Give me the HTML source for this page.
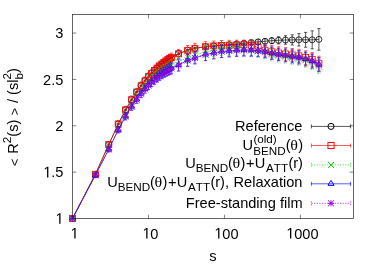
<!DOCTYPE html>
<html><head><meta charset="utf-8"><title>plot</title>
<style>html,body{margin:0;padding:0;background:#fff;}svg{display:block;}text{font-kerning:none;}</style>
</head><body>
<svg width="380" height="266" viewBox="0 0 380 266" font-family='"Liberation Sans", sans-serif' font-size="14.6" fill="#000">
<defs><filter id="bt" x="-5%" y="-5%" width="110%" height="110%" color-interpolation-filters="sRGB"><feGaussianBlur stdDeviation="0.3"/></filter><filter id="bd" x="-5%" y="-5%" width="110%" height="110%" color-interpolation-filters="sRGB"><feGaussianBlur stdDeviation="0.2"/></filter></defs>
<rect width="380" height="266" fill="#fff"/>
<g filter="url(#bt)">
<path d="M72.5 172.14h3.8M353.5 172.14h-3.8M72.5 125.77h3.8M353.5 125.77h-3.8M72.5 79.41h3.8M353.5 79.41h-3.8M72.5 33.05h3.8M353.5 33.05h-3.8M148.47 218.5v-3.8M148.47 14.5v3.8M224.43 218.5v-3.8M224.43 14.5v3.8M300.4 218.5v-3.8M300.4 14.5v3.8" fill="none" stroke="#000" stroke-width="0.5"/>
<g transform="translate(55.28 223.8) scale(1 1.06)"><path transform="translate(0 0) scale(0.00713 -0.00713)" d="M555 0V1237L237 1010V1180L570 1409H736V0Z"/></g>
<g transform="translate(43.11 177.44) scale(1 1.06)"><path transform="translate(0 0) scale(0.00713 -0.00713)" d="M555 0V1237L237 1010V1180L570 1409H736V0Z"/><text x="8.12" y="0">.</text><text x="12.18" y="0">5</text></g>
<g transform="translate(55.28 131.07) scale(1 1.06)"><text x="0" y="0">2</text></g>
<g transform="translate(43.11 84.71) scale(1 1.06)"><text x="0" y="0">2</text><text x="8.12" y="0">.</text><text x="12.18" y="0">5</text></g>
<g transform="translate(55.28 38.35) scale(1 1.06)"><text x="0" y="0">3</text></g>
<g transform="translate(70.34 238.6) scale(1 1.06)"><path transform="translate(0 0) scale(0.00713 -0.00713)" d="M555 0V1237L237 1010V1180L570 1409H736V0Z"/></g>
<g transform="translate(142.25 238.6) scale(1 1.06)"><path transform="translate(0 0) scale(0.00713 -0.00713)" d="M555 0V1237L237 1010V1180L570 1409H736V0Z"/><text x="8.12" y="0">0</text></g>
<g transform="translate(214.16 238.6) scale(1 1.06)"><path transform="translate(0 0) scale(0.00713 -0.00713)" d="M555 0V1237L237 1010V1180L570 1409H736V0Z"/><text x="8.12" y="0">0</text><text x="16.24" y="0">0</text></g>
<g transform="translate(286.07 238.6) scale(1 1.06)"><path transform="translate(0 0) scale(0.00713 -0.00713)" d="M555 0V1237L237 1010V1180L570 1409H736V0Z"/><text x="8.12" y="0">0</text><text x="16.24" y="0">0</text><text x="24.35" y="0">0</text></g>
<text x="213" y="260.6" text-anchor="middle">s</text>
<g transform="translate(18.2 117.2) rotate(-90)"><text x="0" y="0" text-anchor="middle"><tspan font-size="13.14" dy="0.9">&lt;</tspan><tspan dy="-0.9" dx="0.8"> R</tspan><tspan font-size="11.68" dy="-7.2">2</tspan><tspan dy="7.2">(s) </tspan><tspan font-size="13.14" dy="0.9">&gt;</tspan><tspan dy="-0.9" dx="0.8"> / (sl</tspan><tspan font-size="11.68" dy="-7.2">2</tspan><tspan font-size="11.68" dy="11.5" dx="-6.49">b</tspan><tspan dy="-4.3">)</tspan></text></g>
</g>
<g filter="url(#bd)">
<polyline points="72.5,218.5 95.37,174.3 108.75,144.6 118.24,123.94 125.6,109.85 131.61,99.63 136.7,91.99 141.11,85.69 144.99,80.69 148.47,76.62 151.61,73.25 154.48,70.42 157.12,67.99 159.57,65.9 161.84,64.07 163.97,62.45 165.97,61.02 167.86,59.73 169.64,58.57 171.34,57.52 178.6,53.7 187.6,50.3 194.9,48.3 205.5,46.7 213.8,45.9 221.6,45.3 229.2,44.7 236.7,44 243.9,43.2 251.3,42.4 258.1,41.8 265,41.3 271.8,40.7 278.6,40.3 285.5,40 292.2,39.9 298.9,39.8 305.6,39.8 312.2,39.8 318.9,39.4" fill="none" stroke="#000000" stroke-width="0.65"/>
<path d="M72.5 218V219M70.9 218H74.1M70.9 219H74.1M95.37 173.8V174.8M93.77 173.8H96.97M93.77 174.8H96.97M108.75 144.1V145.1M107.15 144.1H110.35M107.15 145.1H110.35M118.24 123.44V124.44M116.64 123.44H119.84M116.64 124.44H119.84M125.6 109.35V110.35M124 109.35H127.2M124 110.35H127.2M131.61 99.13V100.13M130.01 99.13H133.21M130.01 100.13H133.21M136.7 91.49V92.49M135.1 91.49H138.3M135.1 92.49H138.3M141.11 85.19V86.19M139.51 85.19H142.71M139.51 86.19H142.71M144.99 80.19V81.19M143.39 80.19H146.59M143.39 81.19H146.59M148.47 76.12V77.12M146.87 76.12H150.07M146.87 77.12H150.07M151.61 72.75V73.75M150.01 72.75H153.21M150.01 73.75H153.21M154.48 69.92V70.92M152.88 69.92H156.08M152.88 70.92H156.08M157.12 67.49V68.49M155.52 67.49H158.72M155.52 68.49H158.72M159.57 65.4V66.4M157.97 65.4H161.17M157.97 66.4H161.17M161.84 63.57V64.57M160.24 63.57H163.44M160.24 64.57H163.44M163.97 61.95V62.95M162.37 61.95H165.57M162.37 62.95H165.57M165.97 60.52V61.52M164.37 60.52H167.57M164.37 61.52H167.57M167.86 59.23V60.23M166.26 59.23H169.46M166.26 60.23H169.46M169.64 58.07V59.07M168.04 58.07H171.24M168.04 59.07H171.24M171.34 57.02V58.02M169.74 57.02H172.94M169.74 58.02H172.94M178.6 52.9V54.5M177 52.9H180.2M177 54.5H180.2M187.6 49.5V51.1M186 49.5H189.2M186 51.1H189.2M194.9 47.5V49.1M193.3 47.5H196.5M193.3 49.1H196.5M205.5 45.9V47.5M203.9 45.9H207.1M203.9 47.5H207.1M213.8 45.1V46.7M212.2 45.1H215.4M212.2 46.7H215.4M221.6 44.5V46.1M220 44.5H223.2M220 46.1H223.2M229.2 43.74V45.66M227.6 43.74H230.8M227.6 45.66H230.8M236.7 42.85V45.15M235.1 42.85H238.3M235.1 45.15H238.3M243.9 41.81V44.59M242.3 41.81H245.5M242.3 44.59H245.5M251.3 40.72V44.08M249.7 40.72H252.9M249.7 44.08H252.9M258.1 39.78V43.82M256.5 39.78H259.7M256.5 43.82H259.7M265 38.87V43.73M263.4 38.87H266.6M263.4 43.73H266.6M271.8 37.77V43.63M270.2 37.77H273.4M270.2 43.63H273.4M278.6 36.77V43.83M277 36.77H280.2M277 43.83H280.2M285.5 35.75V44.25M283.9 35.75H287.1M283.9 44.25H287.1M292.2 34.77V45.03M290.6 34.77H293.8M290.6 45.03H293.8M298.9 33.62V45.98M297.3 33.62H300.5M297.3 45.98H300.5M305.6 32.36V47.24M304 32.36H307.2M304 47.24H307.2M312.2 30.84V48.76M310.6 30.84H313.8M310.6 48.76H313.8M318.9 28.6V50.2M317.3 28.6H320.5M317.3 50.2H320.5" fill="none" stroke="#000000" stroke-width="0.65"/>
<circle cx="72.5" cy="218.5" r="3" fill="none" stroke="#000000" stroke-width="0.8"/>
<circle cx="95.37" cy="174.3" r="3" fill="none" stroke="#000000" stroke-width="0.8"/>
<circle cx="108.75" cy="144.6" r="3" fill="none" stroke="#000000" stroke-width="0.8"/>
<circle cx="118.24" cy="123.94" r="3" fill="none" stroke="#000000" stroke-width="0.8"/>
<circle cx="125.6" cy="109.85" r="3" fill="none" stroke="#000000" stroke-width="0.8"/>
<circle cx="131.61" cy="99.63" r="3" fill="none" stroke="#000000" stroke-width="0.8"/>
<circle cx="136.7" cy="91.99" r="3" fill="none" stroke="#000000" stroke-width="0.8"/>
<circle cx="141.11" cy="85.69" r="3" fill="none" stroke="#000000" stroke-width="0.8"/>
<circle cx="144.99" cy="80.69" r="3" fill="none" stroke="#000000" stroke-width="0.8"/>
<circle cx="148.47" cy="76.62" r="3" fill="none" stroke="#000000" stroke-width="0.8"/>
<circle cx="151.61" cy="73.25" r="3" fill="none" stroke="#000000" stroke-width="0.8"/>
<circle cx="154.48" cy="70.42" r="3" fill="none" stroke="#000000" stroke-width="0.8"/>
<circle cx="157.12" cy="67.99" r="3" fill="none" stroke="#000000" stroke-width="0.8"/>
<circle cx="159.57" cy="65.9" r="3" fill="none" stroke="#000000" stroke-width="0.8"/>
<circle cx="161.84" cy="64.07" r="3" fill="none" stroke="#000000" stroke-width="0.8"/>
<circle cx="163.97" cy="62.45" r="3" fill="none" stroke="#000000" stroke-width="0.8"/>
<circle cx="165.97" cy="61.02" r="3" fill="none" stroke="#000000" stroke-width="0.8"/>
<circle cx="167.86" cy="59.73" r="3" fill="none" stroke="#000000" stroke-width="0.8"/>
<circle cx="169.64" cy="58.57" r="3" fill="none" stroke="#000000" stroke-width="0.8"/>
<circle cx="171.34" cy="57.52" r="3" fill="none" stroke="#000000" stroke-width="0.8"/>
<circle cx="178.6" cy="53.7" r="3" fill="none" stroke="#000000" stroke-width="0.8"/>
<circle cx="187.6" cy="50.3" r="3" fill="none" stroke="#000000" stroke-width="0.8"/>
<circle cx="194.9" cy="48.3" r="3" fill="none" stroke="#000000" stroke-width="0.8"/>
<circle cx="205.5" cy="46.7" r="3" fill="none" stroke="#000000" stroke-width="0.8"/>
<circle cx="213.8" cy="45.9" r="3" fill="none" stroke="#000000" stroke-width="0.8"/>
<circle cx="221.6" cy="45.3" r="3" fill="none" stroke="#000000" stroke-width="0.8"/>
<circle cx="229.2" cy="44.7" r="3" fill="none" stroke="#000000" stroke-width="0.8"/>
<circle cx="236.7" cy="44" r="3" fill="none" stroke="#000000" stroke-width="0.8"/>
<circle cx="243.9" cy="43.2" r="3" fill="none" stroke="#000000" stroke-width="0.8"/>
<circle cx="251.3" cy="42.4" r="3" fill="none" stroke="#000000" stroke-width="0.8"/>
<circle cx="258.1" cy="41.8" r="3" fill="none" stroke="#000000" stroke-width="0.8"/>
<circle cx="265" cy="41.3" r="3" fill="none" stroke="#000000" stroke-width="0.8"/>
<circle cx="271.8" cy="40.7" r="3" fill="none" stroke="#000000" stroke-width="0.8"/>
<circle cx="278.6" cy="40.3" r="3" fill="none" stroke="#000000" stroke-width="0.8"/>
<circle cx="285.5" cy="40" r="3" fill="none" stroke="#000000" stroke-width="0.8"/>
<circle cx="292.2" cy="39.9" r="3" fill="none" stroke="#000000" stroke-width="0.8"/>
<circle cx="298.9" cy="39.8" r="3" fill="none" stroke="#000000" stroke-width="0.8"/>
<circle cx="305.6" cy="39.8" r="3" fill="none" stroke="#000000" stroke-width="0.8"/>
<circle cx="312.2" cy="39.8" r="3" fill="none" stroke="#000000" stroke-width="0.8"/>
<circle cx="318.9" cy="39.4" r="3" fill="none" stroke="#000000" stroke-width="0.8"/>
<polyline points="72.5,218.5 95.37,174.3 108.75,144.6 118.24,123.94 125.6,109.85 131.61,99.63 136.7,91.99 141.11,85.69 144.99,80.69 148.47,76.62 151.61,73.25 154.48,70.42 157.12,67.99 159.57,65.9 161.84,64.07 163.97,62.45 165.97,61.02 167.86,59.73 169.64,58.57 171.34,57.52 178.6,53.7 187.6,50.3 194.9,48.3 205.5,46.7 213.8,45.9 221.6,45.5 229.2,45.2 236.7,45 243.9,44.8 251.3,45.3 258.1,47.6 265,50.2 271.8,51.8 278.6,53 285.5,54 292.2,55 298.9,55.9 305.6,57.6 312.2,59.6 318.9,63.2" fill="none" stroke="#ff0000" stroke-width="0.65"/>
<path d="M95.37 172.8V175.8M93.77 172.8H96.97M93.77 175.8H96.97M108.75 142.1V147.1M107.15 142.1H110.35M107.15 147.1H110.35M118.24 120.74V127.14M116.64 120.74H119.84M116.64 127.14H119.84M125.6 106.25V113.45M124 106.25H127.2M124 113.45H127.2M131.61 95.98V103.29M130.01 95.98H133.21M130.01 103.29H133.21M136.7 88.28V95.7M135.1 88.28H138.3M135.1 95.7H138.3M141.11 81.93V89.45M139.51 81.93H142.71M139.51 89.45H142.71M144.99 76.87V84.5M143.39 76.87H146.59M143.39 84.5H146.59M148.47 72.75V80.49M146.87 72.75H150.07M146.87 80.49H150.07M151.61 69.33V77.17M150.01 69.33H153.21M150.01 77.17H153.21M154.48 66.44V74.39M152.88 66.44H156.08M152.88 74.39H156.08M157.12 63.97V72.02M155.52 63.97H158.72M155.52 72.02H158.72M159.57 61.82V69.98M157.97 61.82H161.17M157.97 69.98H161.17M161.84 59.94V68.2M160.24 59.94H163.44M160.24 68.2H163.44M163.97 58.27V66.64M162.37 58.27H165.57M162.37 66.64H165.57M165.97 56.78V65.26M164.37 56.78H167.57M164.37 65.26H167.57M167.86 55.44V64.02M166.26 55.44H169.46M166.26 64.02H169.46M169.64 54.22V62.92M168.04 54.22H171.24M168.04 62.92H171.24M171.34 53.12V61.92M169.74 53.12H172.94M169.74 61.92H172.94M178.6 49.4V58M177 49.4H180.2M177 58H180.2M187.6 45.5V55.1M186 45.5H189.2M186 55.1H189.2M194.9 43.4V53.2M193.3 43.4H196.5M193.3 53.2H196.5M205.5 41.7V51.7M203.9 41.7H207.1M203.9 51.7H207.1M213.8 41V50.8M212.2 41H215.4M212.2 50.8H215.4M221.6 40.5V50.5M220 40.5H223.2M220 50.5H223.2M229.2 40.3V50.1M227.6 40.3H230.8M227.6 50.1H230.8M236.7 40.2V49.8M235.1 40.2H238.3M235.1 49.8H238.3M243.9 40.2V49.4M242.3 40.2H245.5M242.3 49.4H245.5M251.3 40.8V49.8M249.7 40.8H252.9M249.7 49.8H252.9M258.1 42.1V53.1M256.5 42.1H259.7M256.5 53.1H259.7M265 44.2V56.2M263.4 44.2H266.6M263.4 56.2H266.6M271.8 45.6V58M270.2 45.6H273.4M270.2 58H273.4M278.6 46.8V59.2M277 46.8H280.2M277 59.2H280.2M285.5 47.7V60.3M283.9 47.7H287.1M283.9 60.3H287.1M292.2 48.5V61.5M290.6 48.5H293.8M290.6 61.5H293.8M298.9 49.3V62.5M297.3 49.3H300.5M297.3 62.5H300.5M305.6 50.8V64.4M304 50.8H307.2M304 64.4H307.2M312.2 52.6V66.6M310.6 52.6H313.8M310.6 66.6H313.8M318.9 56.2V70.2M317.3 56.2H320.5M317.3 70.2H320.5" fill="none" stroke="#ff0000" stroke-width="0.65"/>
<rect x="69.5" y="215.5" width="6" height="6" fill="none" stroke="#ff0000" stroke-width="0.8"/>
<rect x="92.37" y="171.3" width="6" height="6" fill="none" stroke="#ff0000" stroke-width="0.8"/>
<rect x="105.75" y="141.6" width="6" height="6" fill="none" stroke="#ff0000" stroke-width="0.8"/>
<rect x="115.24" y="120.94" width="6" height="6" fill="none" stroke="#ff0000" stroke-width="0.8"/>
<rect x="122.6" y="106.85" width="6" height="6" fill="none" stroke="#ff0000" stroke-width="0.8"/>
<rect x="128.61" y="96.63" width="6" height="6" fill="none" stroke="#ff0000" stroke-width="0.8"/>
<rect x="133.7" y="88.99" width="6" height="6" fill="none" stroke="#ff0000" stroke-width="0.8"/>
<rect x="138.11" y="82.69" width="6" height="6" fill="none" stroke="#ff0000" stroke-width="0.8"/>
<rect x="141.99" y="77.69" width="6" height="6" fill="none" stroke="#ff0000" stroke-width="0.8"/>
<rect x="145.47" y="73.62" width="6" height="6" fill="none" stroke="#ff0000" stroke-width="0.8"/>
<rect x="148.61" y="70.25" width="6" height="6" fill="none" stroke="#ff0000" stroke-width="0.8"/>
<rect x="151.48" y="67.42" width="6" height="6" fill="none" stroke="#ff0000" stroke-width="0.8"/>
<rect x="154.12" y="64.99" width="6" height="6" fill="none" stroke="#ff0000" stroke-width="0.8"/>
<rect x="156.57" y="62.9" width="6" height="6" fill="none" stroke="#ff0000" stroke-width="0.8"/>
<rect x="158.84" y="61.07" width="6" height="6" fill="none" stroke="#ff0000" stroke-width="0.8"/>
<rect x="160.97" y="59.45" width="6" height="6" fill="none" stroke="#ff0000" stroke-width="0.8"/>
<rect x="162.97" y="58.02" width="6" height="6" fill="none" stroke="#ff0000" stroke-width="0.8"/>
<rect x="164.86" y="56.73" width="6" height="6" fill="none" stroke="#ff0000" stroke-width="0.8"/>
<rect x="166.64" y="55.57" width="6" height="6" fill="none" stroke="#ff0000" stroke-width="0.8"/>
<rect x="168.34" y="54.52" width="6" height="6" fill="none" stroke="#ff0000" stroke-width="0.8"/>
<rect x="175.6" y="50.7" width="6" height="6" fill="none" stroke="#ff0000" stroke-width="0.8"/>
<rect x="184.6" y="47.3" width="6" height="6" fill="none" stroke="#ff0000" stroke-width="0.8"/>
<rect x="191.9" y="45.3" width="6" height="6" fill="none" stroke="#ff0000" stroke-width="0.8"/>
<rect x="202.5" y="43.7" width="6" height="6" fill="none" stroke="#ff0000" stroke-width="0.8"/>
<rect x="210.8" y="42.9" width="6" height="6" fill="none" stroke="#ff0000" stroke-width="0.8"/>
<rect x="218.6" y="42.5" width="6" height="6" fill="none" stroke="#ff0000" stroke-width="0.8"/>
<rect x="226.2" y="42.2" width="6" height="6" fill="none" stroke="#ff0000" stroke-width="0.8"/>
<rect x="233.7" y="42" width="6" height="6" fill="none" stroke="#ff0000" stroke-width="0.8"/>
<rect x="240.9" y="41.8" width="6" height="6" fill="none" stroke="#ff0000" stroke-width="0.8"/>
<rect x="248.3" y="42.3" width="6" height="6" fill="none" stroke="#ff0000" stroke-width="0.8"/>
<rect x="255.1" y="44.6" width="6" height="6" fill="none" stroke="#ff0000" stroke-width="0.8"/>
<rect x="262" y="47.2" width="6" height="6" fill="none" stroke="#ff0000" stroke-width="0.8"/>
<rect x="268.8" y="48.8" width="6" height="6" fill="none" stroke="#ff0000" stroke-width="0.8"/>
<rect x="275.6" y="50" width="6" height="6" fill="none" stroke="#ff0000" stroke-width="0.8"/>
<rect x="282.5" y="51" width="6" height="6" fill="none" stroke="#ff0000" stroke-width="0.8"/>
<rect x="289.2" y="52" width="6" height="6" fill="none" stroke="#ff0000" stroke-width="0.8"/>
<rect x="295.9" y="52.9" width="6" height="6" fill="none" stroke="#ff0000" stroke-width="0.8"/>
<rect x="302.6" y="54.6" width="6" height="6" fill="none" stroke="#ff0000" stroke-width="0.8"/>
<rect x="309.2" y="56.6" width="6" height="6" fill="none" stroke="#ff0000" stroke-width="0.8"/>
<rect x="315.9" y="60.2" width="6" height="6" fill="none" stroke="#ff0000" stroke-width="0.8"/>
<polyline points="72.5,218.5 95.37,175.3 108.75,149 118.24,129.34 125.6,115.55 131.61,105.43 136.7,97.89 141.11,91.69 144.99,86.79 148.47,82.82 151.61,79.25 154.48,76.62 157.12,74.39 159.57,72.5 161.84,70.87 163.97,69.45 165.97,68.22 167.86,67.13 169.64,66.17 171.34,65.32 178.6,62 187.6,57.3 194.9,54.8 205.5,51.9 213.8,50.5 221.6,49.5 229.2,49.2 236.7,49.1 243.9,49.4 251.3,50.1 258.1,50.9 265,52.5 271.8,54.6 278.6,55.8 285.5,56.8 292.2,57.8 298.9,58.7 305.6,60.4 312.2,62.4 318.9,66.4" fill="none" stroke="#00d000" stroke-width="0.65" stroke-dasharray="1.3 1.3"/>
<path d="M95.37 173.8V176.8M93.77 173.8H96.97M93.77 176.8H96.97M108.75 146.5V151.5M107.15 146.5H110.35M107.15 151.5H110.35M118.24 126.34V132.34M116.64 126.34H119.84M116.64 132.34H119.84M125.6 112.05V119.05M124 112.05H127.2M124 119.05H127.2M131.61 101.8V109.07M130.01 101.8H133.21M130.01 109.07H133.21M136.7 94.12V101.66M135.1 94.12H138.3M135.1 101.66H138.3M141.11 87.79V95.59M139.51 87.79H142.71M139.51 95.59H142.71M144.99 82.75V90.82M143.39 82.75H146.59M143.39 90.82H146.59M148.47 78.65V86.99M146.87 78.65H150.07M146.87 86.99H150.07M151.61 74.95V83.55M150.01 74.95H153.21M150.01 83.55H153.21M154.48 72.18V81.05M152.88 72.18H156.08M152.88 81.05H156.08M157.12 69.83V78.96M155.52 69.83H158.72M155.52 78.96H158.72M159.57 67.8V77.2M157.97 67.8H161.17M157.97 77.2H161.17M161.84 66.04V75.7M160.24 66.04H163.44M160.24 75.7H163.44M163.97 64.49V74.42M162.37 64.49H165.57M162.37 74.42H165.57M165.97 63.12V73.32M164.37 63.12H167.57M164.37 73.32H167.57M167.86 61.9V72.36M166.26 61.9H169.46M166.26 72.36H169.46M169.64 60.8V71.54M168.04 60.8H171.24M168.04 71.54H171.24M171.34 59.82V70.82M169.74 59.82H172.94M169.74 70.82H172.94M178.6 56V68M177 56H180.2M177 68H180.2M187.6 51.3V63.3M186 51.3H189.2M186 63.3H189.2M194.9 48.8V60.8M193.3 48.8H196.5M193.3 60.8H196.5M205.5 45.9V57.9M203.9 45.9H207.1M203.9 57.9H207.1M213.8 44.5V56.5M212.2 44.5H215.4M212.2 56.5H215.4M221.6 43.5V55.5M220 43.5H223.2M220 55.5H223.2M229.2 43.2V55.2M227.6 43.2H230.8M227.6 55.2H230.8M236.7 43.1V55.1M235.1 43.1H238.3M235.1 55.1H238.3M243.9 43.4V55.4M242.3 43.4H245.5M242.3 55.4H245.5M251.3 44.1V56.1M249.7 44.1H252.9M249.7 56.1H252.9M258.1 44.8V57M256.5 44.8H259.7M256.5 57H259.7M265 46.4V58.6M263.4 46.4H266.6M263.4 58.6H266.6M271.8 48.4V60.8M270.2 48.4H273.4M270.2 60.8H273.4M278.6 49.6V62M277 49.6H280.2M277 62H280.2M285.5 50.5V63.1M283.9 50.5H287.1M283.9 63.1H287.1M292.2 51.3V64.3M290.6 51.3H293.8M290.6 64.3H293.8M298.9 52.1V65.3M297.3 52.1H300.5M297.3 65.3H300.5M305.6 53.6V67.2M304 53.6H307.2M304 67.2H307.2M312.2 55.4V69.4M310.6 55.4H313.8M310.6 69.4H313.8M318.9 59.4V73.4M317.3 59.4H320.5M317.3 73.4H320.5" fill="none" stroke="#00d000" stroke-width="0.65" stroke-dasharray="1.3 1.3"/>
<path d="M69.5 215.5L75.5 221.5M69.5 221.5L75.5 215.5" fill="none" stroke="#00d000" stroke-width="0.8"/>
<path d="M92.37 172.3L98.37 178.3M92.37 178.3L98.37 172.3" fill="none" stroke="#00d000" stroke-width="0.8"/>
<path d="M105.75 146L111.75 152M105.75 152L111.75 146" fill="none" stroke="#00d000" stroke-width="0.8"/>
<path d="M115.24 126.34L121.24 132.34M115.24 132.34L121.24 126.34" fill="none" stroke="#00d000" stroke-width="0.8"/>
<path d="M122.6 112.55L128.6 118.55M122.6 118.55L128.6 112.55" fill="none" stroke="#00d000" stroke-width="0.8"/>
<path d="M128.61 102.43L134.61 108.43M128.61 108.43L134.61 102.43" fill="none" stroke="#00d000" stroke-width="0.8"/>
<path d="M133.7 94.89L139.7 100.89M133.7 100.89L139.7 94.89" fill="none" stroke="#00d000" stroke-width="0.8"/>
<path d="M138.11 88.69L144.11 94.69M138.11 94.69L144.11 88.69" fill="none" stroke="#00d000" stroke-width="0.8"/>
<path d="M141.99 83.79L147.99 89.79M141.99 89.79L147.99 83.79" fill="none" stroke="#00d000" stroke-width="0.8"/>
<path d="M145.47 79.82L151.47 85.82M145.47 85.82L151.47 79.82" fill="none" stroke="#00d000" stroke-width="0.8"/>
<path d="M148.61 76.25L154.61 82.25M148.61 82.25L154.61 76.25" fill="none" stroke="#00d000" stroke-width="0.8"/>
<path d="M151.48 73.62L157.48 79.62M151.48 79.62L157.48 73.62" fill="none" stroke="#00d000" stroke-width="0.8"/>
<path d="M154.12 71.39L160.12 77.39M154.12 77.39L160.12 71.39" fill="none" stroke="#00d000" stroke-width="0.8"/>
<path d="M156.57 69.5L162.57 75.5M156.57 75.5L162.57 69.5" fill="none" stroke="#00d000" stroke-width="0.8"/>
<path d="M158.84 67.87L164.84 73.87M158.84 73.87L164.84 67.87" fill="none" stroke="#00d000" stroke-width="0.8"/>
<path d="M160.97 66.45L166.97 72.45M160.97 72.45L166.97 66.45" fill="none" stroke="#00d000" stroke-width="0.8"/>
<path d="M162.97 65.22L168.97 71.22M162.97 71.22L168.97 65.22" fill="none" stroke="#00d000" stroke-width="0.8"/>
<path d="M164.86 64.13L170.86 70.13M164.86 70.13L170.86 64.13" fill="none" stroke="#00d000" stroke-width="0.8"/>
<path d="M166.64 63.17L172.64 69.17M166.64 69.17L172.64 63.17" fill="none" stroke="#00d000" stroke-width="0.8"/>
<path d="M168.34 62.32L174.34 68.32M168.34 68.32L174.34 62.32" fill="none" stroke="#00d000" stroke-width="0.8"/>
<path d="M175.6 59L181.6 65M175.6 65L181.6 59" fill="none" stroke="#00d000" stroke-width="0.8"/>
<path d="M184.6 54.3L190.6 60.3M184.6 60.3L190.6 54.3" fill="none" stroke="#00d000" stroke-width="0.8"/>
<path d="M191.9 51.8L197.9 57.8M191.9 57.8L197.9 51.8" fill="none" stroke="#00d000" stroke-width="0.8"/>
<path d="M202.5 48.9L208.5 54.9M202.5 54.9L208.5 48.9" fill="none" stroke="#00d000" stroke-width="0.8"/>
<path d="M210.8 47.5L216.8 53.5M210.8 53.5L216.8 47.5" fill="none" stroke="#00d000" stroke-width="0.8"/>
<path d="M218.6 46.5L224.6 52.5M218.6 52.5L224.6 46.5" fill="none" stroke="#00d000" stroke-width="0.8"/>
<path d="M226.2 46.2L232.2 52.2M226.2 52.2L232.2 46.2" fill="none" stroke="#00d000" stroke-width="0.8"/>
<path d="M233.7 46.1L239.7 52.1M233.7 52.1L239.7 46.1" fill="none" stroke="#00d000" stroke-width="0.8"/>
<path d="M240.9 46.4L246.9 52.4M240.9 52.4L246.9 46.4" fill="none" stroke="#00d000" stroke-width="0.8"/>
<path d="M248.3 47.1L254.3 53.1M248.3 53.1L254.3 47.1" fill="none" stroke="#00d000" stroke-width="0.8"/>
<path d="M255.1 47.9L261.1 53.9M255.1 53.9L261.1 47.9" fill="none" stroke="#00d000" stroke-width="0.8"/>
<path d="M262 49.5L268 55.5M262 55.5L268 49.5" fill="none" stroke="#00d000" stroke-width="0.8"/>
<path d="M268.8 51.6L274.8 57.6M268.8 57.6L274.8 51.6" fill="none" stroke="#00d000" stroke-width="0.8"/>
<path d="M275.6 52.8L281.6 58.8M275.6 58.8L281.6 52.8" fill="none" stroke="#00d000" stroke-width="0.8"/>
<path d="M282.5 53.8L288.5 59.8M282.5 59.8L288.5 53.8" fill="none" stroke="#00d000" stroke-width="0.8"/>
<path d="M289.2 54.8L295.2 60.8M289.2 60.8L295.2 54.8" fill="none" stroke="#00d000" stroke-width="0.8"/>
<path d="M295.9 55.7L301.9 61.7M295.9 61.7L301.9 55.7" fill="none" stroke="#00d000" stroke-width="0.8"/>
<path d="M302.6 57.4L308.6 63.4M302.6 63.4L308.6 57.4" fill="none" stroke="#00d000" stroke-width="0.8"/>
<path d="M309.2 59.4L315.2 65.4M309.2 65.4L315.2 59.4" fill="none" stroke="#00d000" stroke-width="0.8"/>
<path d="M315.9 63.4L321.9 69.4M315.9 69.4L321.9 63.4" fill="none" stroke="#00d000" stroke-width="0.8"/>
<polyline points="72.5,218.5 95.37,175.3 108.75,149.3 118.24,129.84 125.6,116.35 131.61,106.63 136.7,99.49 141.11,93.69 144.99,89.09 148.47,85.42 151.61,82.25 154.48,79.62 157.12,77.39 159.57,75.5 161.84,73.87 163.97,72.45 165.97,71.22 167.86,70.13 169.64,69.17 171.34,68.32 178.6,65 187.6,60.3 194.9,57.8 205.5,54.5 213.8,52.8 221.6,51.5 229.2,50.8 236.7,50.3 243.9,50 251.3,50.1 258.1,50.6 265,51.6 271.8,53.2 278.6,54.4 285.5,55.4 292.2,56.4 298.9,57.3 305.6,59 312.2,61 318.9,64.6" fill="none" stroke="#0000ff" stroke-width="0.65"/>
<path d="M95.37 173.8V176.8M93.77 173.8H96.97M93.77 176.8H96.97M108.75 146.8V151.8M107.15 146.8H110.35M107.15 151.8H110.35M118.24 126.84V132.84M116.64 126.84H119.84M116.64 132.84H119.84M125.6 112.85V119.85M124 112.85H127.2M124 119.85H127.2M131.61 103V110.27M130.01 103H133.21M130.01 110.27H133.21M136.7 95.72V103.26M135.1 95.72H138.3M135.1 103.26H138.3M141.11 89.79V97.59M139.51 89.79H142.71M139.51 97.59H142.71M144.99 85.05V93.12M143.39 85.05H146.59M143.39 93.12H146.59M148.47 81.25V89.59M146.87 81.25H150.07M146.87 89.59H150.07M151.61 77.95V86.55M150.01 77.95H153.21M150.01 86.55H153.21M154.48 75.18V84.05M152.88 75.18H156.08M152.88 84.05H156.08M157.12 72.83V81.96M155.52 72.83H158.72M155.52 81.96H158.72M159.57 70.8V80.2M157.97 70.8H161.17M157.97 80.2H161.17M161.84 69.04V78.7M160.24 69.04H163.44M160.24 78.7H163.44M163.97 67.49V77.42M162.37 67.49H165.57M162.37 77.42H165.57M165.97 66.12V76.32M164.37 66.12H167.57M164.37 76.32H167.57M167.86 64.9V75.36M166.26 64.9H169.46M166.26 75.36H169.46M169.64 63.8V74.54M168.04 63.8H171.24M168.04 74.54H171.24M171.34 62.82V73.82M169.74 62.82H172.94M169.74 73.82H172.94M178.6 59V71M177 59H180.2M177 71H180.2M187.6 54.3V66.3M186 54.3H189.2M186 66.3H189.2M194.9 51.8V63.8M193.3 51.8H196.5M193.3 63.8H196.5M205.5 48.5V60.5M203.9 48.5H207.1M203.9 60.5H207.1M213.8 46.8V58.8M212.2 46.8H215.4M212.2 58.8H215.4M221.6 45.5V57.5M220 45.5H223.2M220 57.5H223.2M229.2 44.8V56.8M227.6 44.8H230.8M227.6 56.8H230.8M236.7 44.3V56.3M235.1 44.3H238.3M235.1 56.3H238.3M243.9 44V56M242.3 44H245.5M242.3 56H245.5M251.3 44.1V56.1M249.7 44.1H252.9M249.7 56.1H252.9M258.1 44.5V56.7M256.5 44.5H259.7M256.5 56.7H259.7M265 45.5V57.7M263.4 45.5H266.6M263.4 57.7H266.6M271.8 47V59.4M270.2 47H273.4M270.2 59.4H273.4M278.6 48.2V60.6M277 48.2H280.2M277 60.6H280.2M285.5 49.1V61.7M283.9 49.1H287.1M283.9 61.7H287.1M292.2 49.9V62.9M290.6 49.9H293.8M290.6 62.9H293.8M298.9 50.7V63.9M297.3 50.7H300.5M297.3 63.9H300.5M305.6 52.2V65.8M304 52.2H307.2M304 65.8H307.2M312.2 54V68M310.6 54H313.8M310.6 68H313.8M318.9 57.6V71.6M317.3 57.6H320.5M317.3 71.6H320.5" fill="none" stroke="#0000ff" stroke-width="0.65"/>
<path d="M72.5 215.14L69.5 220L75.5 220Z" fill="none" stroke="#0000ff" stroke-width="0.8"/>
<path d="M95.37 171.94L92.37 176.8L98.37 176.8Z" fill="none" stroke="#0000ff" stroke-width="0.8"/>
<path d="M108.75 145.94L105.75 150.8L111.75 150.8Z" fill="none" stroke="#0000ff" stroke-width="0.8"/>
<path d="M118.24 126.48L115.24 131.34L121.24 131.34Z" fill="none" stroke="#0000ff" stroke-width="0.8"/>
<path d="M125.6 112.99L122.6 117.85L128.6 117.85Z" fill="none" stroke="#0000ff" stroke-width="0.8"/>
<path d="M131.61 103.27L128.61 108.13L134.61 108.13Z" fill="none" stroke="#0000ff" stroke-width="0.8"/>
<path d="M136.7 96.13L133.7 100.99L139.7 100.99Z" fill="none" stroke="#0000ff" stroke-width="0.8"/>
<path d="M141.11 90.33L138.11 95.19L144.11 95.19Z" fill="none" stroke="#0000ff" stroke-width="0.8"/>
<path d="M144.99 85.73L141.99 90.59L147.99 90.59Z" fill="none" stroke="#0000ff" stroke-width="0.8"/>
<path d="M148.47 82.06L145.47 86.92L151.47 86.92Z" fill="none" stroke="#0000ff" stroke-width="0.8"/>
<path d="M151.61 78.89L148.61 83.75L154.61 83.75Z" fill="none" stroke="#0000ff" stroke-width="0.8"/>
<path d="M154.48 76.26L151.48 81.12L157.48 81.12Z" fill="none" stroke="#0000ff" stroke-width="0.8"/>
<path d="M157.12 74.03L154.12 78.89L160.12 78.89Z" fill="none" stroke="#0000ff" stroke-width="0.8"/>
<path d="M159.57 72.14L156.57 77L162.57 77Z" fill="none" stroke="#0000ff" stroke-width="0.8"/>
<path d="M161.84 70.51L158.84 75.37L164.84 75.37Z" fill="none" stroke="#0000ff" stroke-width="0.8"/>
<path d="M163.97 69.09L160.97 73.95L166.97 73.95Z" fill="none" stroke="#0000ff" stroke-width="0.8"/>
<path d="M165.97 67.86L162.97 72.72L168.97 72.72Z" fill="none" stroke="#0000ff" stroke-width="0.8"/>
<path d="M167.86 66.77L164.86 71.63L170.86 71.63Z" fill="none" stroke="#0000ff" stroke-width="0.8"/>
<path d="M169.64 65.81L166.64 70.67L172.64 70.67Z" fill="none" stroke="#0000ff" stroke-width="0.8"/>
<path d="M171.34 64.96L168.34 69.82L174.34 69.82Z" fill="none" stroke="#0000ff" stroke-width="0.8"/>
<path d="M178.6 61.64L175.6 66.5L181.6 66.5Z" fill="none" stroke="#0000ff" stroke-width="0.8"/>
<path d="M187.6 56.94L184.6 61.8L190.6 61.8Z" fill="none" stroke="#0000ff" stroke-width="0.8"/>
<path d="M194.9 54.44L191.9 59.3L197.9 59.3Z" fill="none" stroke="#0000ff" stroke-width="0.8"/>
<path d="M205.5 51.14L202.5 56L208.5 56Z" fill="none" stroke="#0000ff" stroke-width="0.8"/>
<path d="M213.8 49.44L210.8 54.3L216.8 54.3Z" fill="none" stroke="#0000ff" stroke-width="0.8"/>
<path d="M221.6 48.14L218.6 53L224.6 53Z" fill="none" stroke="#0000ff" stroke-width="0.8"/>
<path d="M229.2 47.44L226.2 52.3L232.2 52.3Z" fill="none" stroke="#0000ff" stroke-width="0.8"/>
<path d="M236.7 46.94L233.7 51.8L239.7 51.8Z" fill="none" stroke="#0000ff" stroke-width="0.8"/>
<path d="M243.9 46.64L240.9 51.5L246.9 51.5Z" fill="none" stroke="#0000ff" stroke-width="0.8"/>
<path d="M251.3 46.74L248.3 51.6L254.3 51.6Z" fill="none" stroke="#0000ff" stroke-width="0.8"/>
<path d="M258.1 47.24L255.1 52.1L261.1 52.1Z" fill="none" stroke="#0000ff" stroke-width="0.8"/>
<path d="M265 48.24L262 53.1L268 53.1Z" fill="none" stroke="#0000ff" stroke-width="0.8"/>
<path d="M271.8 49.84L268.8 54.7L274.8 54.7Z" fill="none" stroke="#0000ff" stroke-width="0.8"/>
<path d="M278.6 51.04L275.6 55.9L281.6 55.9Z" fill="none" stroke="#0000ff" stroke-width="0.8"/>
<path d="M285.5 52.04L282.5 56.9L288.5 56.9Z" fill="none" stroke="#0000ff" stroke-width="0.8"/>
<path d="M292.2 53.04L289.2 57.9L295.2 57.9Z" fill="none" stroke="#0000ff" stroke-width="0.8"/>
<path d="M298.9 53.94L295.9 58.8L301.9 58.8Z" fill="none" stroke="#0000ff" stroke-width="0.8"/>
<path d="M305.6 55.64L302.6 60.5L308.6 60.5Z" fill="none" stroke="#0000ff" stroke-width="0.8"/>
<path d="M312.2 57.64L309.2 62.5L315.2 62.5Z" fill="none" stroke="#0000ff" stroke-width="0.8"/>
<path d="M318.9 61.24L315.9 66.1L321.9 66.1Z" fill="none" stroke="#0000ff" stroke-width="0.8"/>
<polyline points="72.5,218.5 95.37,175.3 108.75,149.5 118.24,130.04 125.6,116.55 131.61,106.83 136.7,99.69 141.11,93.89 144.99,89.29 148.47,85.62 151.61,82.45 154.48,79.82 157.12,77.59 159.57,75.7 161.84,74.07 163.97,72.65 165.97,71.42 167.86,70.33 169.64,69.37 171.34,68.52 178.6,65.2 187.6,60.5 194.9,58 205.5,54.7 213.8,53 221.6,51.7 229.2,51 236.7,50.5 243.9,50.2 251.3,50.3 258.1,50.8 265,51.8 271.8,53.4 278.6,54.6 285.5,55.6 292.2,56.6 298.9,57.5 305.6,59.2 312.2,61.2 318.9,64.8" fill="none" stroke="#9400d3" stroke-width="0.65" stroke-dasharray="1.3 1.3"/>
<path d="M95.37 173.8V176.8M93.77 173.8H96.97M93.77 176.8H96.97M108.75 147V152M107.15 147H110.35M107.15 152H110.35M118.24 127.04V133.04M116.64 127.04H119.84M116.64 133.04H119.84M125.6 113.05V120.05M124 113.05H127.2M124 120.05H127.2M131.61 103.2V110.47M130.01 103.2H133.21M130.01 110.47H133.21M136.7 95.92V103.46M135.1 95.92H138.3M135.1 103.46H138.3M141.11 89.99V97.79M139.51 89.99H142.71M139.51 97.79H142.71M144.99 85.25V93.32M143.39 85.25H146.59M143.39 93.32H146.59M148.47 81.45V89.79M146.87 81.45H150.07M146.87 89.79H150.07M151.61 78.15V86.75M150.01 78.15H153.21M150.01 86.75H153.21M154.48 75.38V84.25M152.88 75.38H156.08M152.88 84.25H156.08M157.12 73.03V82.16M155.52 73.03H158.72M155.52 82.16H158.72M159.57 71V80.4M157.97 71H161.17M157.97 80.4H161.17M161.84 69.24V78.9M160.24 69.24H163.44M160.24 78.9H163.44M163.97 67.69V77.62M162.37 67.69H165.57M162.37 77.62H165.57M165.97 66.32V76.52M164.37 66.32H167.57M164.37 76.52H167.57M167.86 65.1V75.56M166.26 65.1H169.46M166.26 75.56H169.46M169.64 64V74.74M168.04 64H171.24M168.04 74.74H171.24M171.34 63.02V74.02M169.74 63.02H172.94M169.74 74.02H172.94M178.6 59.2V71.2M177 59.2H180.2M177 71.2H180.2M187.6 54.5V66.5M186 54.5H189.2M186 66.5H189.2M194.9 52V64M193.3 52H196.5M193.3 64H196.5M205.5 48.7V60.7M203.9 48.7H207.1M203.9 60.7H207.1M213.8 47V59M212.2 47H215.4M212.2 59H215.4M221.6 45.7V57.7M220 45.7H223.2M220 57.7H223.2M229.2 45V57M227.6 45H230.8M227.6 57H230.8M236.7 44.5V56.5M235.1 44.5H238.3M235.1 56.5H238.3M243.9 44.2V56.2M242.3 44.2H245.5M242.3 56.2H245.5M251.3 44.3V56.3M249.7 44.3H252.9M249.7 56.3H252.9M258.1 44.7V56.9M256.5 44.7H259.7M256.5 56.9H259.7M265 45.7V57.9M263.4 45.7H266.6M263.4 57.9H266.6M271.8 47.2V59.6M270.2 47.2H273.4M270.2 59.6H273.4M278.6 48.4V60.8M277 48.4H280.2M277 60.8H280.2M285.5 49.3V61.9M283.9 49.3H287.1M283.9 61.9H287.1M292.2 50.1V63.1M290.6 50.1H293.8M290.6 63.1H293.8M298.9 50.9V64.1M297.3 50.9H300.5M297.3 64.1H300.5M305.6 52.4V66M304 52.4H307.2M304 66H307.2M312.2 54.2V68.2M310.6 54.2H313.8M310.6 68.2H313.8M318.9 57.8V71.8M317.3 57.8H320.5M317.3 71.8H320.5" fill="none" stroke="#9400d3" stroke-width="0.65" stroke-dasharray="1.3 1.3"/>
<path d="M69.5 215.5L75.5 221.5M69.5 221.5L75.5 215.5M69.5 218.5L75.5 218.5M72.5 215.5L72.5 221.5" fill="none" stroke="#9400d3" stroke-width="0.8"/>
<path d="M92.37 172.3L98.37 178.3M92.37 178.3L98.37 172.3M92.37 175.3L98.37 175.3M95.37 172.3L95.37 178.3" fill="none" stroke="#9400d3" stroke-width="0.8"/>
<path d="M105.75 146.5L111.75 152.5M105.75 152.5L111.75 146.5M105.75 149.5L111.75 149.5M108.75 146.5L108.75 152.5" fill="none" stroke="#9400d3" stroke-width="0.8"/>
<path d="M115.24 127.04L121.24 133.04M115.24 133.04L121.24 127.04M115.24 130.04L121.24 130.04M118.24 127.04L118.24 133.04" fill="none" stroke="#9400d3" stroke-width="0.8"/>
<path d="M122.6 113.55L128.6 119.55M122.6 119.55L128.6 113.55M122.6 116.55L128.6 116.55M125.6 113.55L125.6 119.55" fill="none" stroke="#9400d3" stroke-width="0.8"/>
<path d="M128.61 103.83L134.61 109.83M128.61 109.83L134.61 103.83M128.61 106.83L134.61 106.83M131.61 103.83L131.61 109.83" fill="none" stroke="#9400d3" stroke-width="0.8"/>
<path d="M133.7 96.69L139.7 102.69M133.7 102.69L139.7 96.69M133.7 99.69L139.7 99.69M136.7 96.69L136.7 102.69" fill="none" stroke="#9400d3" stroke-width="0.8"/>
<path d="M138.11 90.89L144.11 96.89M138.11 96.89L144.11 90.89M138.11 93.89L144.11 93.89M141.11 90.89L141.11 96.89" fill="none" stroke="#9400d3" stroke-width="0.8"/>
<path d="M141.99 86.29L147.99 92.29M141.99 92.29L147.99 86.29M141.99 89.29L147.99 89.29M144.99 86.29L144.99 92.29" fill="none" stroke="#9400d3" stroke-width="0.8"/>
<path d="M145.47 82.62L151.47 88.62M145.47 88.62L151.47 82.62M145.47 85.62L151.47 85.62M148.47 82.62L148.47 88.62" fill="none" stroke="#9400d3" stroke-width="0.8"/>
<path d="M148.61 79.45L154.61 85.45M148.61 85.45L154.61 79.45M148.61 82.45L154.61 82.45M151.61 79.45L151.61 85.45" fill="none" stroke="#9400d3" stroke-width="0.8"/>
<path d="M151.48 76.82L157.48 82.82M151.48 82.82L157.48 76.82M151.48 79.82L157.48 79.82M154.48 76.82L154.48 82.82" fill="none" stroke="#9400d3" stroke-width="0.8"/>
<path d="M154.12 74.59L160.12 80.59M154.12 80.59L160.12 74.59M154.12 77.59L160.12 77.59M157.12 74.59L157.12 80.59" fill="none" stroke="#9400d3" stroke-width="0.8"/>
<path d="M156.57 72.7L162.57 78.7M156.57 78.7L162.57 72.7M156.57 75.7L162.57 75.7M159.57 72.7L159.57 78.7" fill="none" stroke="#9400d3" stroke-width="0.8"/>
<path d="M158.84 71.07L164.84 77.07M158.84 77.07L164.84 71.07M158.84 74.07L164.84 74.07M161.84 71.07L161.84 77.07" fill="none" stroke="#9400d3" stroke-width="0.8"/>
<path d="M160.97 69.65L166.97 75.65M160.97 75.65L166.97 69.65M160.97 72.65L166.97 72.65M163.97 69.65L163.97 75.65" fill="none" stroke="#9400d3" stroke-width="0.8"/>
<path d="M162.97 68.42L168.97 74.42M162.97 74.42L168.97 68.42M162.97 71.42L168.97 71.42M165.97 68.42L165.97 74.42" fill="none" stroke="#9400d3" stroke-width="0.8"/>
<path d="M164.86 67.33L170.86 73.33M164.86 73.33L170.86 67.33M164.86 70.33L170.86 70.33M167.86 67.33L167.86 73.33" fill="none" stroke="#9400d3" stroke-width="0.8"/>
<path d="M166.64 66.37L172.64 72.37M166.64 72.37L172.64 66.37M166.64 69.37L172.64 69.37M169.64 66.37L169.64 72.37" fill="none" stroke="#9400d3" stroke-width="0.8"/>
<path d="M168.34 65.52L174.34 71.52M168.34 71.52L174.34 65.52M168.34 68.52L174.34 68.52M171.34 65.52L171.34 71.52" fill="none" stroke="#9400d3" stroke-width="0.8"/>
<path d="M175.6 62.2L181.6 68.2M175.6 68.2L181.6 62.2M175.6 65.2L181.6 65.2M178.6 62.2L178.6 68.2" fill="none" stroke="#9400d3" stroke-width="0.8"/>
<path d="M184.6 57.5L190.6 63.5M184.6 63.5L190.6 57.5M184.6 60.5L190.6 60.5M187.6 57.5L187.6 63.5" fill="none" stroke="#9400d3" stroke-width="0.8"/>
<path d="M191.9 55L197.9 61M191.9 61L197.9 55M191.9 58L197.9 58M194.9 55L194.9 61" fill="none" stroke="#9400d3" stroke-width="0.8"/>
<path d="M202.5 51.7L208.5 57.7M202.5 57.7L208.5 51.7M202.5 54.7L208.5 54.7M205.5 51.7L205.5 57.7" fill="none" stroke="#9400d3" stroke-width="0.8"/>
<path d="M210.8 50L216.8 56M210.8 56L216.8 50M210.8 53L216.8 53M213.8 50L213.8 56" fill="none" stroke="#9400d3" stroke-width="0.8"/>
<path d="M218.6 48.7L224.6 54.7M218.6 54.7L224.6 48.7M218.6 51.7L224.6 51.7M221.6 48.7L221.6 54.7" fill="none" stroke="#9400d3" stroke-width="0.8"/>
<path d="M226.2 48L232.2 54M226.2 54L232.2 48M226.2 51L232.2 51M229.2 48L229.2 54" fill="none" stroke="#9400d3" stroke-width="0.8"/>
<path d="M233.7 47.5L239.7 53.5M233.7 53.5L239.7 47.5M233.7 50.5L239.7 50.5M236.7 47.5L236.7 53.5" fill="none" stroke="#9400d3" stroke-width="0.8"/>
<path d="M240.9 47.2L246.9 53.2M240.9 53.2L246.9 47.2M240.9 50.2L246.9 50.2M243.9 47.2L243.9 53.2" fill="none" stroke="#9400d3" stroke-width="0.8"/>
<path d="M248.3 47.3L254.3 53.3M248.3 53.3L254.3 47.3M248.3 50.3L254.3 50.3M251.3 47.3L251.3 53.3" fill="none" stroke="#9400d3" stroke-width="0.8"/>
<path d="M255.1 47.8L261.1 53.8M255.1 53.8L261.1 47.8M255.1 50.8L261.1 50.8M258.1 47.8L258.1 53.8" fill="none" stroke="#9400d3" stroke-width="0.8"/>
<path d="M262 48.8L268 54.8M262 54.8L268 48.8M262 51.8L268 51.8M265 48.8L265 54.8" fill="none" stroke="#9400d3" stroke-width="0.8"/>
<path d="M268.8 50.4L274.8 56.4M268.8 56.4L274.8 50.4M268.8 53.4L274.8 53.4M271.8 50.4L271.8 56.4" fill="none" stroke="#9400d3" stroke-width="0.8"/>
<path d="M275.6 51.6L281.6 57.6M275.6 57.6L281.6 51.6M275.6 54.6L281.6 54.6M278.6 51.6L278.6 57.6" fill="none" stroke="#9400d3" stroke-width="0.8"/>
<path d="M282.5 52.6L288.5 58.6M282.5 58.6L288.5 52.6M282.5 55.6L288.5 55.6M285.5 52.6L285.5 58.6" fill="none" stroke="#9400d3" stroke-width="0.8"/>
<path d="M289.2 53.6L295.2 59.6M289.2 59.6L295.2 53.6M289.2 56.6L295.2 56.6M292.2 53.6L292.2 59.6" fill="none" stroke="#9400d3" stroke-width="0.8"/>
<path d="M295.9 54.5L301.9 60.5M295.9 60.5L301.9 54.5M295.9 57.5L301.9 57.5M298.9 54.5L298.9 60.5" fill="none" stroke="#9400d3" stroke-width="0.8"/>
<path d="M302.6 56.2L308.6 62.2M302.6 62.2L308.6 56.2M302.6 59.2L308.6 59.2M305.6 56.2L305.6 62.2" fill="none" stroke="#9400d3" stroke-width="0.8"/>
<path d="M309.2 58.2L315.2 64.2M309.2 64.2L315.2 58.2M309.2 61.2L315.2 61.2M312.2 58.2L312.2 64.2" fill="none" stroke="#9400d3" stroke-width="0.8"/>
<path d="M315.9 61.8L321.9 67.8M315.9 67.8L321.9 61.8M315.9 64.8L321.9 64.8M318.9 61.8L318.9 67.8" fill="none" stroke="#9400d3" stroke-width="0.8"/>
</g>
<g filter="url(#bt)">
<path d="M311.4 126.4H350.6" fill="none" stroke="#000000" stroke-width="0.65"/>
<path d="M311.4 124.4v4M350.6 124.4v4" fill="none" stroke="#000000" stroke-width="0.65"/>
<circle cx="331" cy="126.4" r="3.05" fill="none" stroke="#000000" stroke-width="1.0"/>
<path d="M311.4 145.5H350.6" fill="none" stroke="#ff0000" stroke-width="0.65"/>
<path d="M311.4 143.5v4M350.6 143.5v4" fill="none" stroke="#ff0000" stroke-width="0.65"/>
<rect x="327.95" y="142.45" width="6.1" height="6.1" fill="none" stroke="#ff0000" stroke-width="1.0"/>
<path d="M311.4 164.9H350.6" fill="none" stroke="#00d000" stroke-width="0.65" stroke-dasharray="1.3 1.3"/>
<path d="M311.4 162.9v4M350.6 162.9v4" fill="none" stroke="#00d000" stroke-width="0.65" stroke-dasharray="1.3 1.3"/>
<path d="M327.95 161.85L334.05 167.95M327.95 167.95L334.05 161.85" fill="none" stroke="#00d000" stroke-width="1.0"/>
<path d="M311.4 183.8H350.6" fill="none" stroke="#0000ff" stroke-width="0.65"/>
<path d="M311.4 181.8v4M350.6 181.8v4" fill="none" stroke="#0000ff" stroke-width="0.65"/>
<path d="M331 180.38L327.95 185.33L334.05 185.33Z" fill="none" stroke="#0000ff" stroke-width="1.0"/>
<path d="M311.4 203.3H350.6" fill="none" stroke="#9400d3" stroke-width="0.65" stroke-dasharray="1.3 1.3"/>
<path d="M311.4 201.3v4M350.6 201.3v4" fill="none" stroke="#9400d3" stroke-width="0.65" stroke-dasharray="1.3 1.3"/>
<path d="M327.95 200.25L334.05 206.35M327.95 206.35L334.05 200.25M327.95 203.3L334.05 203.3M331 200.25L331 206.35" fill="none" stroke="#9400d3" stroke-width="1.0"/>
<text x="302.4" y="131.2" text-anchor="end">Reference</text>
<text x="242.4" y="150.3" font-size="14.6" text-anchor="start">U</text>
<text x="253.4" y="143" font-size="11.68" text-anchor="start">(old)</text>
<text x="253.25" y="154.55" font-size="11.68" text-anchor="start">BEND</text>
<text x="285.8" y="150.3" font-size="14.6" text-anchor="start">(</text><text transform="translate(290.25 150.3) scale(1.1 1)" font-family="'Liberation Serif', serif" font-size="14.6">θ</text><text x="298.26" y="150.3" font-size="14.6" text-anchor="start">)</text>
<text x="185.3" y="167.85" font-size="14.6" text-anchor="start">U</text><text x="195.75" y="172.1" font-size="11.68" text-anchor="start">BEND</text><text x="228.1" y="167.85" font-size="14.6" text-anchor="start">(</text><text transform="translate(232.55 167.85) scale(1.1 1)" font-family="'Liberation Serif', serif" font-size="14.6">θ</text><text x="240.56" y="167.85" font-size="14.6" text-anchor="start">)</text><text x="245.9" y="167.85" font-size="14.6" text-anchor="start">+</text><text x="254.8" y="167.85" font-size="14.6" text-anchor="start">U</text><text x="266" y="172.1" font-size="11.68" text-anchor="start">ATT</text><text x="288.4" y="167.85" font-size="14.6" text-anchor="start">(r)</text>
<text x="107.3" y="187.2" font-size="14.6" text-anchor="start">U</text><text x="117.75" y="191.45" font-size="11.68" text-anchor="start">BEND</text><text x="150.1" y="187.2" font-size="14.6" text-anchor="start">(</text><text transform="translate(154.55 187.2) scale(1.1 1)" font-family="'Liberation Serif', serif" font-size="14.6">θ</text><text x="162.56" y="187.2" font-size="14.6" text-anchor="start">)</text><text x="167.9" y="187.2" font-size="14.6" text-anchor="start">+</text><text x="176.8" y="187.2" font-size="14.6" text-anchor="start">U</text><text x="188" y="191.45" font-size="11.68" text-anchor="start">ATT</text><text x="210.4" y="187.2" font-size="14.6" text-anchor="start">(r),</text>
<text x="302.5" y="187.2" font-size="14.6" text-anchor="end">Relaxation</text>
<text x="302.6" y="208.0" text-anchor="end">Free-standing film</text>
<rect x="72.5" y="14.5" width="281.0" height="204.0" fill="none" stroke="#222" stroke-width="0.7"/>
</g>
</svg>
</body></html>
